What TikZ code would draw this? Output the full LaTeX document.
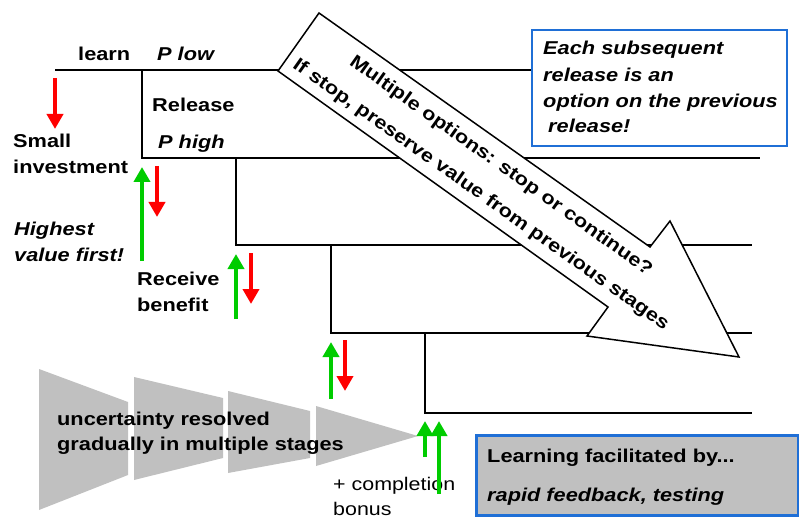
\documentclass[tikz,border=0pt]{standalone}
\usepackage{fontspec}
\setmainfont{Liberation Sans}[FakeStretch=1.17]
\usetikzlibrary{arrows.meta}
\definecolor{grn}{HTML}{00CC00}
\definecolor{rd}{HTML}{FF0000}
\definecolor{bl}{HTML}{1F6FD6}
\definecolor{gry}{HTML}{C0C0C0}
\begin{document}
\begin{tikzpicture}[x=1pt,y=-1pt,
  txt/.style={inner sep=0pt, anchor=base west, font=\fontsize{18.6}{22}\selectfont\bfseries},
  txti/.style={txt, font=\fontsize{18.6}{22}\selectfont\bfseries\itshape},
  txtr/.style={txt, font=\fontsize{18.3}{22}\selectfont},
  stair/.style={line width=2pt, black},
  upar/.style={line width=4pt, grn, -{Triangle[width=16pt,length=15pt]}},
  downar/.style={line width=4pt, rd, -{Triangle[width=16pt,length=15pt]}},
  funnel/.style={fill=gry, draw=none}]
\useasboundingbox (0,0) rectangle (799,521);

% stairs
\draw[stair] (55,70) -- (531,70);
\draw[stair] (142,70) -- (142,158) -- (760,158);
\draw[stair] (236,158) -- (236,245) -- (752,245);
\draw[stair] (331,245) -- (331,333) -- (752,333);
\draw[stair] (425,333) -- (425,413) -- (752,413);

% big arrow
\draw[line width=1.5pt, fill=white, line join=miter] (319,13) -- (650,247) -- (670,221) -- (739,357) -- (587,336) -- (608,307) -- (278,71) -- cycle;
\node[txt, anchor=center, rotate=-35.3] (m1) at (500.8,166.3) {Multiple options: stop or continue?};
\node[txt, anchor=center, rotate=-35.3] (m2) at (480.6,194.9) {If stop, preserve value from previous stages};

% top blue box
\node[draw=bl, line width=2pt, minimum width=255pt, minimum height=116pt, anchor=north west, inner sep=0pt] (box1) at (531,29) {};
\node[txti] (b1) at (543,55) {Each subsequent};
\node[txti] (b2) at (543,81.7) {release is an};
\node[txti] (b3) at (543,108) {option on the previous};
\node[txti] (b4) at (548,133) {release!};

% labels
\node[txt] (learn) at (78,60.5) {learn};
\node[txti] (plow) at (157,60.5) {P low};
\node[txt] (rel) at (152,111.7) {Release};
\node[txti] (phigh) at (158,148.3) {P high};
\node[txt] (small) at (13,148) {Small};
\node[txt] (invest) at (13,173.3) {investment};
\node[txti] (high) at (14,235) {Highest};
\node[txti] (vfirst) at (14,261) {value first!};
\node[txt] (recv) at (137,285) {Receive};
\node[txt] (bene) at (137,311.7) {benefit};

% funnels
\fill[funnel] (39,369) -- (128,402) -- (128,475) -- (39,510) -- cycle;
\fill[funnel] (134,377) -- (223,398) -- (223,458) -- (134,480) -- cycle;
\fill[funnel] (228,391) -- (310,411) -- (310,458) -- (228,473) -- cycle;
\fill[funnel] (316,406) -- (418,436) -- (316,466) -- cycle;
\node[txt] (unc1) at (57,425) {uncertainty resolved};
\node[txt] (unc2) at (57,450) {gradually in multiple stages};
\node[txtr] (comp1) at (333,490) {+ completion};
\node[txtr] (comp2) at (333,515) {bonus};

% arrows
\draw[downar] (55,78) -- (55,129);
\draw[upar] (142,261) -- (142,167);
\draw[downar] (157,166) -- (157,217);
\draw[upar] (236,319) -- (236,254);
\draw[downar] (251,253) -- (251,304);
\draw[upar] (331,399) -- (331,342);
\draw[downar] (345,340) -- (345,391);
\draw[upar] (425,457) -- (425,421);
\draw[upar] (439,494) -- (439,421);

% bottom box
\node[draw=bl, fill=gry, line width=3pt, minimum width=322pt, minimum height=80pt, anchor=north west, inner sep=0pt] (box2) at (475,434) {};
\node[txt] (l1) at (487,462.7) {Learning facilitated by...};
\node[txti] (l2) at (487,501) {rapid feedback, testing};
\end{tikzpicture}
\end{document}
